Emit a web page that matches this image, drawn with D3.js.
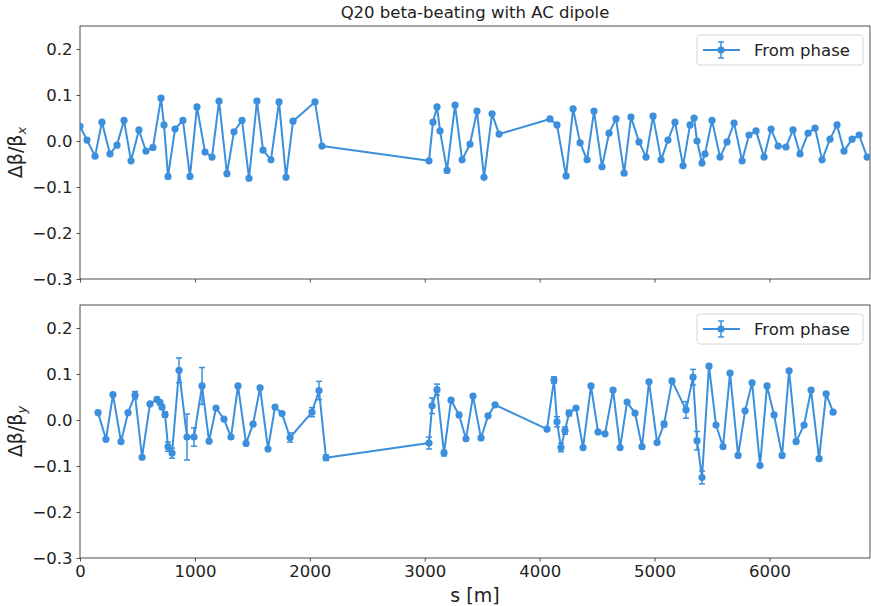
<!DOCTYPE html>
<html>
<head>
<meta charset="utf-8">
<script src="https://cdn.jsdelivr.net/npm/d3@7"></script>
<style>
  html, body { margin: 0; padding: 0; background: #fff; }
  svg { display: block; font-family: "DejaVu Sans", sans-serif; }
</style>
</head>
<body>
<svg id="chart" width="871" height="606"></svg>
<script>
// ---------------- DATA ----------------
const title = "Q20 beta-beating with AC dipole";
const legendLabel = "From phase";
const xTicks = [0, 1000, 2000, 3000, 4000, 5000, 6000];
const yTicks = [0.2, 0.1, 0.0, -0.1, -0.2, -0.3];

// Horizontal plane: s positions [m] and Δβ/β_x
const sX = [0, 61, 131, 191, 261, 322, 383, 444, 513, 574, 635, 705, 731, 766, 827, 896, 957, 1018, 1088, 1149,
  1210, 1279, 1340, 1410, 1471, 1540, 1593, 1662, 1732, 1793, 1854, 2045, 2106, 3037, 3072, 3107, 3133, 3194, 3264, 3325,
  3394, 3455, 3516, 3586, 3647, 4090, 4151, 4230, 4291, 4352, 4413, 4473, 4543, 4604, 4665, 4735, 4795, 4865, 4926, 4987,
  5057, 5117, 5178, 5248, 5309, 5344, 5370, 5413, 5439, 5500, 5570, 5631, 5692, 5762, 5822, 5883, 5953, 6014, 6075, 6144,
  6205, 6266, 6336, 6397, 6458, 6527, 6588, 6649, 6719, 6780, 6850];
const betaBeatX = [0.032, 0.002, -0.033, 0.041, -0.028, -0.009, 0.045, -0.043, 0.024, -0.022, -0.014, 0.093, 0.035, -0.077, 0.026, 0.045, -0.077, 0.074, -0.024, -0.035,
  0.087, -0.071, 0.020, 0.045, -0.081, 0.087, -0.020, -0.041, 0.085, -0.079, 0.043, 0.085, -0.011, -0.043, 0.041, 0.074, 0.022, -0.064, 0.078, -0.041,
  -0.007, 0.065, -0.079, 0.059, 0.015, 0.048, 0.035, -0.076, 0.070, -0.004, -0.041, 0.065, -0.056, 0.017, 0.048, -0.070, 0.052, -0.002, -0.035, 0.054,
  -0.041, 0.002, 0.041, -0.054, 0.035, 0.050, 0.000, -0.048, -0.028, 0.045, -0.035, -0.002, 0.039, -0.043, 0.013, 0.022, -0.035, 0.026, -0.011, -0.013,
  0.024, -0.028, 0.017, 0.028, -0.041, 0.004, 0.035, -0.022, 0.004, 0.013, -0.035];
const errX = sX.map(() => 0.002);

// Vertical plane: s positions [m], Δβ/β_y and error
const sY = [157, 226, 287, 357, 418, 479, 540, 609, 670, 696, 714, 740, 766, 801, 862, 931, 992, 1062, 1123, 1184,
  1253, 1314, 1375, 1445, 1506, 1567, 1636, 1697, 1758, 1828, 2019, 2080, 2141, 3037, 3064, 3107, 3168, 3229, 3299, 3359,
  3420, 3490, 3551, 3612, 4064, 4125, 4151, 4186, 4221, 4256, 4317, 4378, 4447, 4508, 4569, 4639, 4700, 4761, 4830, 4891,
  4952, 5022, 5083, 5152, 5274, 5335, 5370, 5413, 5474, 5535, 5596, 5657, 5727, 5788, 5849, 5918, 5979, 6040, 6110, 6171,
  6232, 6301, 6362, 6432, 6493, 6554];
const betaBeatY = [0.016, -0.042, 0.055, -0.047, 0.016, 0.054, -0.081, 0.035, 0.045, 0.038, 0.028, 0.012, -0.058, -0.072, 0.108, -0.037, -0.037, 0.074, -0.046, 0.026,
  0.002, -0.037, 0.074, -0.051, -0.009, 0.070, -0.063, 0.028, 0.014, -0.038, 0.017, 0.064, -0.082, -0.050, 0.031, 0.066, -0.072, 0.043, 0.011, -0.041,
  0.052, -0.039, 0.009, 0.033, -0.020, 0.087, -0.004, -0.060, -0.023, 0.015, 0.026, -0.060, 0.074, -0.026, -0.030, 0.065, -0.060, 0.039, 0.015, -0.058,
  0.083, -0.049, -0.009, 0.085, 0.022, 0.093, -0.045, -0.125, 0.117, -0.011, -0.058, 0.102, -0.077, 0.020, 0.081, -0.099, 0.074, 0.011, -0.077, 0.107,
  -0.047, -0.011, 0.065, -0.084, 0.057, 0.017];
const errY = [0.003, 0.003, 0.003, 0.003, 0.003, 0.008, 0.003, 0.003, 0.004, 0.005, 0.005, 0.006, 0.010, 0.011, 0.027, 0.050, 0.020, 0.040, 0.003, 0.003,
  0.003, 0.003, 0.003, 0.003, 0.003, 0.003, 0.003, 0.003, 0.004, 0.010, 0.010, 0.020, 0.006, 0.013, 0.017, 0.012, 0.006, 0.003, 0.003, 0.003,
  0.003, 0.003, 0.003, 0.003, 0.003, 0.007, 0.011, 0.009, 0.008, 0.006, 0.003, 0.003, 0.003, 0.003, 0.003, 0.003, 0.003, 0.003, 0.003, 0.003,
  0.003, 0.003, 0.006, 0.003, 0.018, 0.017, 0.020, 0.014, 0.004, 0.003, 0.003, 0.003, 0.003, 0.003, 0.003, 0.003, 0.003, 0.003, 0.003, 0.003,
  0.003, 0.003, 0.003, 0.003, 0.003, 0.003];

// ---------------- DRAW ----------------
const color = "#3b8fdd";
const spineColor = "#3a3a3a";
const svg = d3.select("#chart");
const W = 871, H = 606;
const left = 80, right = 870;
const panels = [
  { top: 26, bottom: 279, s: sX, v: betaBeatX, e: errX, sub: "x", showX: false },
  { top: 305, bottom: 558, s: sY, v: betaBeatY, e: errY, sub: "y", showX: true }
];

const x = d3.scaleLinear().domain([0, 6875]).range([left, right]);
const fmtY = d => d3.format(".1f")(d).replace("-", "\u2212");

// Title
svg.append("text")
  .attr("x", (left + right) / 2).attr("y", 18)
  .attr("text-anchor", "middle")
  .attr("font-size", 16.5)
  .attr("fill", "#222")
  .text(title);

panels.forEach((p, i) => {
  const y = d3.scaleLinear().domain([-0.3, 0.25]).range([p.bottom, p.top]);
  const g = svg.append("g");

  // clip
  const clipId = "clip" + i;
  svg.append("clipPath").attr("id", clipId)
    .append("rect").attr("x", left).attr("y", p.top)
    .attr("width", right - left).attr("height", p.bottom - p.top);

  // axes
  const yAxis = d3.axisLeft(y).tickValues(yTicks).tickFormat(fmtY).tickSizeOuter(0).tickSize(3.5).tickPadding(4);
  const ga = g.append("g").attr("transform", `translate(${left},0)`).call(yAxis);
  const xAxis = d3.axisBottom(x).tickValues(xTicks).tickSizeOuter(0).tickSize(3.5).tickPadding(4)
    .tickFormat(p.showX ? d3.format("d") : () => "");
  const gx = g.append("g").attr("transform", `translate(0,${p.bottom})`).call(xAxis);
  [ga, gx].forEach(a => {
    a.select(".domain").remove();
    a.selectAll(".tick line").attr("stroke", spineColor).attr("stroke-width", 0.9);
    a.selectAll(".tick text").attr("font-size", 16.5).attr("fill", "#222")
      .attr("font-family", "DejaVu Sans, sans-serif");
  });

  // frame
  g.append("rect").attr("x", left).attr("y", p.top)
    .attr("width", right - left).attr("height", p.bottom - p.top)
    .attr("fill", "none").attr("stroke", spineColor).attr("stroke-width", 0.9);

  // y label
  const lab = g.append("text")
    .attr("transform", `translate(22,${(p.top + p.bottom) / 2}) rotate(-90)`)
    .attr("text-anchor", "middle")
    .attr("font-size", 19)
    .attr("fill", "#222");
  lab.append("tspan").text("\u0394\u03b2/\u03b2");
  lab.append("tspan").attr("font-size", 13).attr("dy", 4).attr("font-style", "italic").text(p.sub);

  // data
  const data = p.s.map((s, k) => ({ s, v: p.v[k], e: p.e[k] }));
  const dg = g.append("g").attr("clip-path", `url(#${clipId})`);
  // error bars
  const eb = dg.append("g").attr("stroke", color).attr("stroke-width", 1.5);
  data.forEach(d => {
    const xx = x(d.s), y1 = y(d.v - d.e), y2 = y(d.v + d.e);
    eb.append("line").attr("x1", xx).attr("x2", xx).attr("y1", y1).attr("y2", y2);
    eb.append("line").attr("x1", xx - 3).attr("x2", xx + 3).attr("y1", y1).attr("y2", y1);
    eb.append("line").attr("x1", xx - 3).attr("x2", xx + 3).attr("y1", y2).attr("y2", y2);
  });
  const line = d3.line().x(d => x(d.s)).y(d => y(d.v));
  dg.append("path").datum(data).attr("d", line)
    .attr("fill", "none").attr("stroke", color).attr("stroke-width", 2).attr("stroke-linejoin", "round");
  dg.selectAll("circle").data(data).join("circle")
    .attr("cx", d => x(d.s)).attr("cy", d => y(d.v)).attr("r", 3.6).attr("fill", color);

  // legend
  const lx = 697, ly = p.top + 9, lw = 166, lh = 30;
  const lg = g.append("g");
  lg.append("rect").attr("x", lx).attr("y", ly).attr("width", lw).attr("height", lh)
    .attr("rx", 3).attr("fill", "#fff").attr("fill-opacity", 0.8)
    .attr("stroke", "#d6d6d6").attr("stroke-width", 1);
  const cy = ly + lh / 2, cx = lx + 24;
  lg.append("line").attr("x1", lx + 6).attr("x2", lx + 43).attr("y1", cy).attr("y2", cy)
    .attr("stroke", color).attr("stroke-width", 2);
  lg.append("line").attr("x1", cx).attr("x2", cx).attr("y1", cy - 8).attr("y2", cy + 8)
    .attr("stroke", color).attr("stroke-width", 1.5);
  lg.append("line").attr("x1", cx - 3).attr("x2", cx + 3).attr("y1", cy - 8).attr("y2", cy - 8)
    .attr("stroke", color).attr("stroke-width", 1.5);
  lg.append("line").attr("x1", cx - 3).attr("x2", cx + 3).attr("y1", cy + 8).attr("y2", cy + 8)
    .attr("stroke", color).attr("stroke-width", 1.5);
  lg.append("circle").attr("cx", cx).attr("cy", cy).attr("r", 3.6).attr("fill", color);
  lg.append("text").attr("x", lx + 57).attr("y", cy + 6)
    .attr("font-size", 16.5).attr("fill", "#222").text(legendLabel);
});

// x label
svg.append("text")
  .attr("x", (left + right) / 2).attr("y", 602)
  .attr("text-anchor", "middle")
  .attr("font-size", 19)
  .attr("fill", "#222")
  .text("s [m]");
</script>
</body>
</html>
